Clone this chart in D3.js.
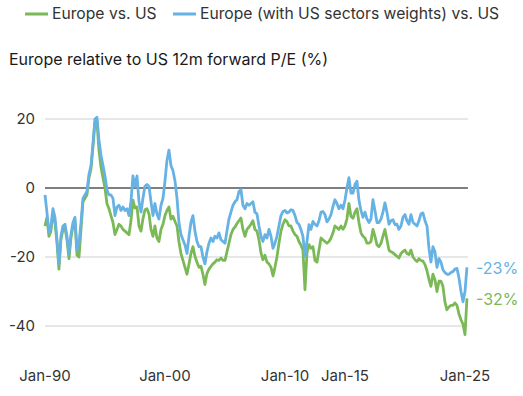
<!DOCTYPE html>
<html><head><meta charset="utf-8">
<script src="https://cdn.jsdelivr.net/npm/d3@7"></script>
<style>body{margin:0;background:#fff}svg{display:block;font-family:Inter,"Noto Sans",sans-serif}</style>
</head><body><svg id="c" width="523" height="396"></svg>
<script>
// bimonthly observations: Jan, Mar, May, Jul, Sep, Nov of each year, 1990 to Mar 2025
const startMonth = "1990-01", endMonth = "2025-03";
const europeVsUS = [
 -11,-8.5,-14,-12.5,-7,-10,  -16,-23.5,-15,-12,-11.5,-15,  -20.5,-14.5,-11,-9.5,-19.5,-20,  -12,-4,-3,-2,3,5.5,
 12,19,19.5,11,6,3,  0,-4.5,-6,-8,-10,-13.5,  -12,-10.5,-11,-12,-12.5,-13,  -13.5,-9.5,-3.5,-5.8,-5.5,-11,
 -12.5,-9,-6.3,-6,-7.5,-12,  -14,-11,-14.5,-15.5,-12,-10.5,  -8,-6.5,-5.5,-9,-8.2,-9.7,  -11,-15.5,-19,-21,-23,-25,
 -22,-19,-17,-19.8,-21.5,-23,  -22.7,-25,-28,-24.8,-23.5,-22.7,  -22,-21.5,-20.8,-21,-20.3,-21,  -21,-18.5,-16,-13.5,-12,-11.3,
 -10.3,-9.5,-8.7,-12,-14,-12,  -11.3,-10.5,-9.5,-12,-12.5,-15,  -18.8,-20.8,-19.5,-21.5,-22,-23,  -25.5,-23,-20,-16,-12.5,-10.5,
 -9.2,-9.7,-11,-11,-12.5,-13.5,  -14,-15.5,-16.5,-18,-29.5,-18.8,  -16.4,-17.5,-17,-21,-21.5,-18,  -14.5,-15,-15.5,-16,-15.5,-14.5,
 -13,-11,-11.5,-12,-11,-12,  -11,-9,-4.5,-8.2,-8.8,-7,  -6,-10,-13,-14,-14.5,-16,  -16,-15.5,-12,-14,-16.5,-17,
 -16,-14,-12,-15,-18,-18.5,  -18.8,-19.3,-19.8,-20.3,-19,-18.4,  -18,-19,-19.3,-18,-20,-20.8,  -21.3,-20.5,-21,-21.2,-22.2,-24,
 -26.5,-28.5,-25,-26.6,-30,-27,  -27,-28.5,-33,-35.3,-34.5,-34,  -34,-33.3,-34,-36.5,-38.2,-39.5,  -42.5,-32];
const europeSectorAdj = [
 -2,-7,-13,-11,-6,-8.5,  -15,-22,-14,-11,-10.5,-14,  -19,-13.5,-10,-8.5,-18,-16,  -10,-3,-2,-1,4,6.5,
 13,20,20.5,14,9.5,6.5,  3.5,-0.5,-2,-2,-3,-8,  -5.5,-5,-6.5,-5.5,-6.5,-6,  -8,-4,3.5,0.5,3.5,-4,
 -7,-3,0.5,1,0.5,-4,  -8,-4.5,-7.5,-9,-5,-3,  2,8,11,6.5,5,2,  -3,-10,-13.5,-15,-16.5,-19,
 -14,-10,-8,-12.5,-15.5,-17,  -17,-20,-22,-18.5,-16,-14.5,  -15.5,-14,-14.5,-13,-15,-15.5,  -16,-12.5,-9,-7,-5,-4,
 -3.4,-1,-0.5,-5,-6,-4.5,  -5,-4.5,-4,-7,-7.5,-11,  -14,-15.5,-13.5,-14.5,-12,-14,  -17.5,-16,-14,-11,-8,-6.8,
 -6.5,-7.2,-7,-6.3,-6.5,-8,  -10,-10.5,-12,-14,-19.8,-15.5,  -10.6,-12,-9.7,-10.5,-11,-9.5,  -7,-6.8,-7.7,-9.8,-9,-7.7,
 -5.3,-3.4,-4.5,-6,-5,-6,  -3.5,0,3,-1.5,-1.5,1,  2,-3.5,-6.5,-8.5,-7,-9,  -10,-9,-3.4,-6.5,-10,-10,
 -9,-7,-4.3,-7,-10.5,-9.5,  -9.2,-10.6,-10.5,-12,-11,-8.5,  -7.7,-9.5,-10.5,-7.7,-10,-10.5,  -11,-9.5,-7.5,-7.2,-9.5,-11,
 -17.5,-21.5,-17,-18.5,-23,-20.5,  -21.5,-23.7,-24.5,-25,-25,-24.5,  -24.2,-23.5,-23.3,-26,-30,-33,  -30,-23];
const yTicks = [20,0,-20,-40];
const xTickLabels = ["Jan-90","Jan-00","Jan-10","Jan-15","Jan-25"];
const seriesNames = ["Europe vs. US","Europe (with US sectors weights) vs. US"];
const endLabels = ["-23%","-32%"];
const titleText = "Europe relative to US 12m forward P/E (%)";

const green = "#7bb957", blue = "#66b2e4";
const parse = d3.timeParse("%Y-%m");
const dates = d3.timeMonth.range(parse(startMonth), d3.timeMonth.offset(parse(endMonth),1), 2);
const svg = d3.select("#c");
const x = d3.scaleTime().domain([parse("1990-01"), parse("2025-01")]).range([45,465]);
const y = d3.scaleLinear().domain([-40,20]).range([326,119]);
const xEnd = x(parse(endMonth))+1;

svg.append("g").selectAll("line").data(yTicks).join("line")
  .attr("x1",45).attr("x2",xEnd).attr("y1",d=>y(d)).attr("y2",d=>y(d))
  .attr("stroke",d=>d===0?"#555":"#cfcfcf").attr("stroke-width",d=>d===0?1.3:1.2);
svg.append("g").selectAll("text").data(yTicks).join("text")
  .attr("x",35).attr("y",d=>y(d)).attr("dy","0.35em").attr("text-anchor","end")
  .attr("font-size",15).attr("fill","#333").text(d=>d);
svg.append("g").selectAll("text").data(xTickLabels).join("text")
  .attr("x",d=>x(d3.timeParse("%b-%y")(d))).attr("y",381).attr("text-anchor","middle")
  .attr("font-size",15).attr("fill","#333").text(d=>d);

const pts = arr=>arr.map((v,i)=>[dates[i],v]);
const line = d3.line().x(d=>x(d[0])).y(d=>y(d[1]));
svg.append("path").attr("d",line(pts(europeVsUS))).attr("fill","none").attr("stroke",green).attr("stroke-width",2.8).attr("stroke-linejoin","round");
svg.append("path").attr("d",line(pts(europeSectorAdj))).attr("fill","none").attr("stroke",blue).attr("stroke-width",2.8).attr("stroke-linejoin","round");

svg.append("text").attr("x",476).attr("y",268).attr("dy","0.35em").attr("font-size",16).attr("fill",blue).text(endLabels[0]);
svg.append("text").attr("x",476).attr("y",299).attr("dy","0.35em").attr("font-size",16).attr("fill",green).text(endLabels[1]);

const leg = [{n:seriesNames[0],c:green,x:25},{n:seriesNames[1],c:blue,x:173}];
leg.forEach(l=>{
  svg.append("line").attr("x1",l.x).attr("x2",l.x+23).attr("y1",14).attr("y2",14).attr("stroke",l.c).attr("stroke-width",3);
  svg.append("text").attr("x",l.x+27).attr("y",14).attr("dy","0.35em").attr("font-size",15.7).attr("fill","#333").text(l.n);
});
svg.append("text").attr("x",9).attr("y",65).attr("font-size",16).attr("fill","#1a1a1a").text(titleText);
</script></body></html>
